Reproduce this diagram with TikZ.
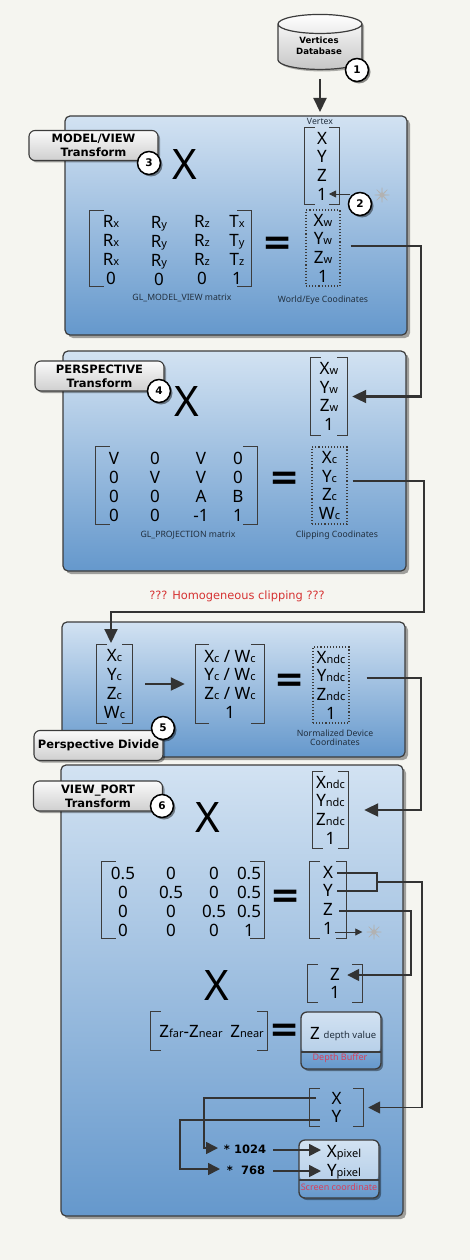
\documentclass[tikz,border=0pt]{standalone}
\usepackage{fontspec}
\setmainfont{Noto Sans}
\newfontfamily\verdfont{DejaVu Sans}
\usetikzlibrary{arrows.meta, shapes.geometric, shadows}
\definecolor{pagebg}{HTML}{F5F5F0}
\definecolor{edge}{HTML}{3C3C3C}
\definecolor{wire}{HTML}{333333}
\definecolor{paneltop}{HTML}{D2E2F2}
\definecolor{panelbot}{HTML}{6598CC}
\definecolor{tagtop}{HTML}{FAFAFA}
\definecolor{tagbot}{HTML}{CFCFCF}
\definecolor{caption}{HTML}{22303F}
\definecolor{warn}{HTML}{D63333}
\definecolor{bufred}{HTML}{D8405C}
\newcommand{\lo}[1]{{\fontsize{11}{11}\selectfont #1}}
\newcommand{\brkt}[2][10]{%
  \draw[brk] ([xshift=#1]#2.north west) -- (#2.north west) -- (#2.south west) -- ([xshift=#1]#2.south west);
  \draw[brk] ([xshift=-#1]#2.north east) -- (#2.north east) -- (#2.south east) -- ([xshift=-#1]#2.south east);}
\tikzset{
  panel/.style={draw=edge, line width=1.2pt, rounded corners=5pt, top color=paneltop, bottom color=panelbot,
    drop shadow={shadow xshift=3pt, shadow yshift=-3pt, fill=black, opacity=.35}, inner sep=0},
  tagbox/.style={draw=edge, line width=1.1pt, rounded corners=6pt, top color=tagtop, bottom color=tagbot,
    font=\verdfont\bfseries\fontsize{11.5}{14.3}\selectfont, align=center, minimum width=129, minimum height=30,
    inner sep=0, drop shadow={shadow xshift=2pt, shadow yshift=-2pt, fill=black, opacity=.35}},
  badge/.style={circle, draw=black, line width=1.5pt, fill=white, minimum size=23, inner sep=0,
    font=\verdfont\bfseries\fontsize{10.5}{10.5}\selectfont,
    drop shadow={shadow xshift=2pt, shadow yshift=-2pt, fill=black, opacity=.45}},
  cell/.style={font=\fontsize{17}{17}\selectfont, text height=12.2, text depth=0, inner sep=0},
  vec/.style={font=\fontsize{17}{18.7}\selectfont, align=center, inner sep=0},
  dotbox/.style={vec, draw=edge, dotted, line width=1.1pt},
  caplabel/.style={font=\fontsize{8.7}{9}\selectfont, text=caption, align=center, inner sep=0},
  bigmark/.style={font=\fontsize{42}{42}\selectfont, inner sep=0},
  eqmark/.style={font=\verdfont\bfseries\fontsize{36}{36}\selectfont, inner sep=0},
  brk/.style={draw=edge, line width=1.2pt},
  link/.style={draw=wire, line width=2.1pt, -{Triangle[length=14pt,width=13pt]}},
  midlink/.style={draw=wire, line width=1.6pt, -{Triangle[length=12pt,width=12pt]}},
  plainlink/.style={draw=wire, line width=1.6pt},
  thinlink/.style={draw=wire, line width=.8pt, -{Triangle[length=7pt,width=7pt]}},
  spark/.style={star, star points=8, star point ratio=7, minimum size=15, inner sep=0,
    fill=gray!60, draw=gray!60, line width=.4pt},
  subbox/.style={draw=edge, line width=1.3pt, rounded corners=6pt, top color=boxmid, bottom color=panelbot,
    drop shadow={shadow xshift=2pt, shadow yshift=-2pt, fill=black, opacity=.4}, inner sep=0,
    path picture={
      \shade[top color=paneltop, bottom color=boxmid] (path picture bounding box.north west)
        rectangle ([yshift=#1]path picture bounding box.south east);
      \draw[edge, line width=1.3pt] ([yshift=#1]path picture bounding box.south west)
        -- ([yshift=#1]path picture bounding box.south east);}},
  boxlabel/.style={font=\fontsize{9}{9}\selectfont, text=bufred, inner sep=0}
}
\colorlet{boxmid}{panelbot!35!paneltop}
\begin{document}
\begin{tikzpicture}[x=1pt, y=-1pt]
  \useasboundingbox (0,0) rectangle (470,1260);
  \fill[pagebg] (0,0) rectangle (470,1260);
  % Panels
  \node[panel, minimum width=342, minimum height=219] (pnlmv) at (236,225.5) {};
  \node[panel, minimum width=343, minimum height=220] (pnlpr) at (234.5,461) {};
  \node[panel, minimum width=343, minimum height=135] (pnlpd) at (233.5,689.5) {};
  \node[panel, minimum width=342, minimum height=451] (pnlvp) at (232,990.5) {};
  % Database
  \node[cylinder, shape border rotate=90, aspect=3.6, draw=edge, line width=1.2pt,
        top color=white, bottom color=gray!45, minimum width=84, minimum height=55, inner sep=0,
        drop shadow={shadow xshift=2pt, shadow yshift=-2pt, fill=black, opacity=.3}] (db) at (320,47) {\phantom{x}};
  \node[font=\verdfont\bfseries\fontsize{8.6}{11}\selectfont, align=center, inner sep=0] (dbtext) at (319,46)
        {Vertices\\Database};
  % Model/view
  \node[caplabel] (vtxlabel) at (320,121) {Vertex};
  \node[vec, minimum width=34, minimum height=77] (vtx) at (322,166) {X\\Y\\Z\\1};
  \brkt{vtx}
  \node[bigmark] (mvx) at (185,165) {X};
  \node[minimum width=161, minimum height=76, inner sep=0] (mvm) at (170.5,248.5) {};
  \brkt[14]{mvm}
  \foreach \ry/\ca/\cb/\cc/\cd [count=\r] in {221/R\lo{x}/R\lo{y}/R\lo{z}/T\lo{x},
      240/R\lo{x}/R\lo{y}/R\lo{z}/T\lo{y}, 259/R\lo{x}/R\lo{y}/R\lo{z}/T\lo{z}, 278/0/0/0/1} {
    \node[cell] (mv\r a) at (111,\ry) {\ca};
    \node[cell] (mv\r b) at (159,\ry+1) {\cb};
    \node[cell] (mv\r c) at (202,\ry) {\cc};
    \node[cell] (mv\r d) at (237,\ry) {\cd};
  }
  \node[eqmark] (mveq) at (278,246) {=};
  \node[dotbox, minimum width=34, minimum height=76] (world) at (323,248)
    {X\lo{w}\\Y\lo{w}\\Z\lo{w}\\1};
  \node[caplabel] (mvcap) at (182,298) {GL\_MODEL\_VIEW matrix};
  \node[caplabel] (worldcap) at (323,300) {World/Eye Coodinates};
  % Perspective
  \node[vec, minimum width=36, minimum height=77] (vw) at (329,396.5) {X\lo{w}\\Y\lo{w}\\Z\lo{w}\\1};
  \brkt{vw}
  \node[bigmark] (prx) at (187,402) {X};
  \node[minimum width=161, minimum height=77, inner sep=0] (prm) at (176.5,485.5) {};
  \brkt[14]{prm}
  \foreach \ry/\ca/\cb/\cc/\cd [count=\r] in {458/V/0/V/0, 477/0/V/V/0, 496/0/0/A/B, 515/0/0/-1/1} {
    \node[cell] (pr\r a) at (114,\ry) {\ca};
    \node[cell] (pr\r b) at (155,\ry) {\cb};
    \node[cell] (pr\r c) at (201,\ry) {\cc};
    \node[cell] (pr\r d) at (238,\ry) {\cd};
  }
  \node[eqmark] (preq) at (285,481) {=};
  \node[dotbox, minimum width=35, minimum height=77] (clip) at (329.5,485.5)
    {X\lo{c}\\Y\lo{c}\\Z\lo{c}\\W\lo{c}};
  \node[caplabel] (prcap) at (188,535) {GL\_PROJECTION matrix};
  \node[caplabel] (clipcap) at (337,535) {Clipping Coodinates};
  \node[font=\verdfont\fontsize{11.4}{12}\selectfont, text=warn, inner sep=0] (homog) at (237,596)
    {??? Homogeneous clipping ???};
  % Perspective divide
  \node[vec, minimum width=35, minimum height=78] (vc) at (114.5,684) {X\lo{c}\\Y\lo{c}\\Z\lo{c}\\W\lo{c}};
  \brkt{vc}
  \node[vec, minimum width=68, minimum height=78] (dvd) at (230,684)
    {X\lo{c} / W\lo{c}\\Y\lo{c} / W\lo{c}\\Z\lo{c} / W\lo{c}\\1};
  \brkt[13]{dvd}
  \node[eqmark] (pdeq) at (290,683) {=};
  \node[dotbox, minimum width=36, minimum height=76] (ndc) at (331,685)
    {X\lo{ndc}\\Y\lo{ndc}\\Z\lo{ndc}\\1};
  \node[caplabel] (ndccap) at (335,738) {Normalized Device\\Coordinates};
  % Viewport
  \node[vec, minimum width=35, minimum height=76] (vndc) at (330.5,810) {X\lo{ndc}\\Y\lo{ndc}\\Z\lo{ndc}\\1};
  \brkt{vndc}
  \node[bigmark] (vpx) at (208,817) {X};
  \node[minimum width=162, minimum height=76, inner sep=0] (vpm) at (183,900) {};
  \brkt[14]{vpm}
  \foreach \ry/\ca/\cb/\cc/\cd [count=\r] in {873/0.5/0/0/0.5, 892/0/0.5/0/0.5, 911/0/0/0.5/0.5, 930/0/0/0/1} {
    \node[cell] (vp\r a) at (123,\ry) {\ca};
    \node[cell] (vp\r b) at (171,\ry) {\cb};
    \node[cell] (vp\r c) at (214,\ry) {\cc};
    \node[cell] (vp\r d) at (249,\ry) {\cd};
  }
  \node[eqmark] (vpeq) at (286,899) {=};
  \node[vec, minimum width=36, minimum height=76] (vout) at (328,900) {X\\Y\\Z\\1};
  \brkt{vout}
  \node[bigmark] (dpx) at (217,985) {X};
  \node[vec, minimum width=54, minimum height=37] (vz) at (335,983.5) {Z\\1};
  \brkt{vz}
  \node[minimum width=116, minimum height=38, inner sep=0] (zrow) at (209,1031) {};
  \brkt{zrow}
  \node[cell] (zfn) at (191,1031) {Z\lo{far}-Z\lo{near}};
  \node[cell] (zn) at (247,1031) {Z\lo{near}};
  \node[eqmark] (dpeq) at (285,1033) {=};
  \node[subbox=17, minimum width=80, minimum height=57] (depth) at (341,1040.5) {};
  \node[cell] (dz) at (315,1033) {Z};
  \node[font=\fontsize{9.5}{10}\selectfont, text=caption, inner sep=0] (dval) at (350,1036) {depth value};
  \node[boxlabel] (dcap) at (340,1058.5) {Depth Buffer};
  \node[vec, minimum width=53, minimum height=37] (vxy) at (336.5,1107.5) {X\\Y};
  \brkt{vxy}
  \node[font=\verdfont\bfseries\fontsize{11.5}{12}\selectfont, inner sep=0] (mulx) at (245,1149) {* 1024};
  \node[font=\verdfont\bfseries\fontsize{11.5}{12}\selectfont, inner sep=0] (muly) at (246,1170) {*\ \ 768};
  \node[subbox=18, minimum width=80, minimum height=58] (screen) at (339,1169) {};
  \node[cell] (xpix) at (344,1151) {X\lo{pixel}};
  \node[cell] (ypix) at (344,1170) {Y\lo{pixel}};
  \node[boxlabel] (scap) at (339,1187.5) {Screen coordinate};
  % Connectors
  \coordinate (dbout) at (320,79);
  \coordinate (vtxin) at (320,112);
  \draw[link] (dbout) -- (vtxin);
  \coordinate (busa) at (420.7,246);
  \draw[link] ([xshift=10]world.east |- busa) -- (busa) |- ([xshift=5]vw.east);
  \coordinate (busb) at (424,612);
  \coordinate (vcin) at (111,643);
  \draw[link] ([xshift=5]clip.east |- 0,481) -- (424,481) -- (busb) -| (vcin);
  \draw[link] ([xshift=13]vc.east) -- ([xshift=-11]dvd.west);
  \coordinate (busc) at (421,678);
  \draw[link] ([xshift=17]ndc.east |- busc) -- (busc) |- ([xshift=16]vndc.east);
  \coordinate (xtap) at (337,873);
  \coordinate (ytap) at (337,891);
  \coordinate (ztap) at (339,911);
  \coordinate (xyjoin) at (377,882);
  \coordinate (busd) at (422,882);
  \coordinate (buse) at (411,911);
  \draw[plainlink] (xtap) -| (xyjoin) |- (ytap);
  \draw[midlink] (xyjoin) -- (busd) |- ([xshift=5]vxy.east);
  \draw[midlink] (ztap) -- (buse) |- ([xshift=-15]vz.east |- 0,975);
  % X and Y to pixels
  \coordinate (xleave) at (316,1098);
  \coordinate (yleave) at (320,1120);
  \coordinate (xin) at (218,1148);
  \coordinate (yin) at (220,1169);
  \draw[midlink] (xleave) -| (204,1148) -- (xin);
  \draw[midlink] (yleave) -| (180,1169) -- (yin);
  \draw[midlink] (273,1150) -- (321,1150);
  \draw[midlink] (273,1171) -- (321,1171);
  % Markers
  \node[spark] (sparka) at (382,195) {};
  \node[spark] (sparkb) at (374,932) {};
  \coordinate (onein) at (329,194);
  \coordinate (oneout) at (335,932);
  \draw[thinlink] (350,194) -- (onein);
  \draw[thinlink] (oneout) -- ([xshift=-1]sparkb.west);
  % Labels
  \node[tagbox] (tagmv) at (93.5,145.5) {MODEL/VIEW\\Transform};
  \node[tagbox] (tagpr) at (99.5,376) {PERSPECTIVE\\Transform};
  \node[tagbox] (tagpd) at (98.5,745.5) {Perspective Divide};
  \node[tagbox] (tagvp) at (98,796) {VIEW\_PORT\\Transform};
  % Badges
  \foreach \bx/\by/\bn in {357/70/1, 360/204/2, 149/163/3, 159/391/4, 163/728/5, 162/806/6}
    \node[badge] (bdg\bn) at (\bx,\by) {\bn};
\end{tikzpicture}
\end{document}
